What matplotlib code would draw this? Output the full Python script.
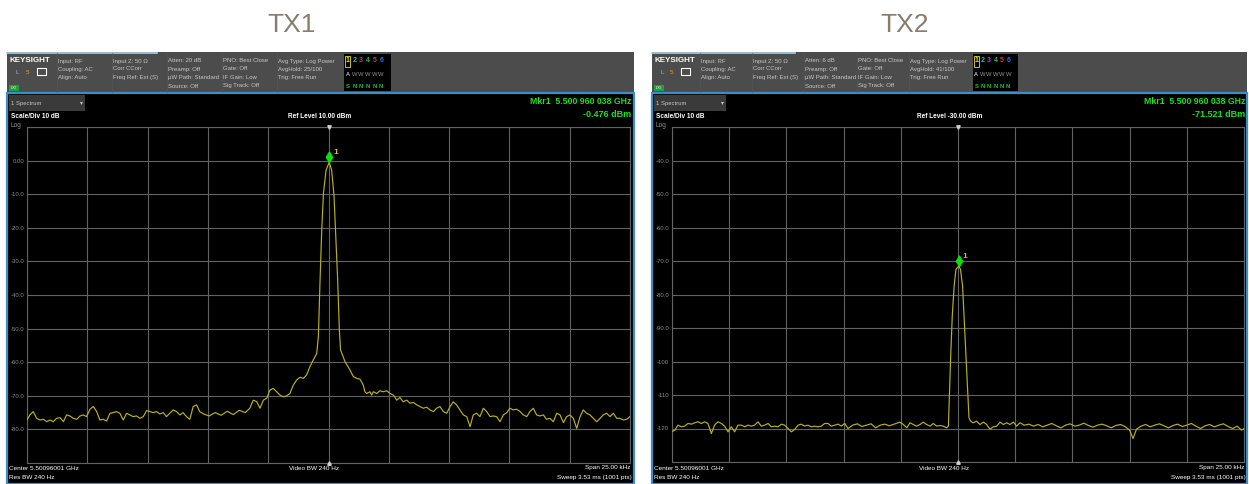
import matplotlib
matplotlib.use('Agg')
import matplotlib.pyplot as plt
from matplotlib.patches import Rectangle
from matplotlib.path import Path
import numpy as np

plt.rcParams['font.family'] = ['Liberation Sans', 'DejaVu Sans']

# ---------------- data ----------------
tx1_freq_khz = [-12.50, -12.38, -12.24, -12.10, -11.96, -11.82, -11.68, -11.55, -11.41, -11.27, -11.13, -10.99,
                -10.86, -10.72, -10.58, -10.44, -10.30, -10.17, -10.03, -9.89, -9.75, -9.61, -9.48, -9.34,
                -9.20, -9.06, -8.92, -8.79, -8.65, -8.51, -8.37, -8.23, -8.10, -7.96, -7.82, -7.68, -7.54,
                -7.41, -7.27, -7.13, -6.99, -6.85, -6.72, -6.58, -6.44, -6.30, -6.16, -6.03, -5.89, -5.75,
                -5.61, -5.47, -5.34, -5.15, -4.95, -4.70, -4.45, -4.20, -3.95, -3.70, -3.45, -3.26, -3.12,
                -2.98, -2.84, -2.70, -2.56, -2.43, -2.29, -2.15, -2.01, -1.87, -1.73, -1.60, -1.46, -1.32,
                -1.18, -1.04, -0.91, -0.77, -0.63, -0.49, -0.42, -0.35, -0.28, -0.21, -0.10, 0.03, 0.13,
                0.23, 0.31, 0.38, 0.45, 0.50, 0.61, 0.68, 0.89, 1.03, 1.17, 1.31, 1.44, 1.51, 1.58, 1.72,
                1.79, 1.86, 2.00, 2.13, 2.27, 2.41, 2.55, 2.69, 2.83, 2.96, 3.10, 3.24, 3.38, 3.52, 3.66,
                3.79, 3.93, 4.07, 4.21, 4.35, 4.48, 4.62, 4.76, 4.90, 5.04, 5.17, 5.31, 5.45, 5.59, 5.73,
                5.87, 6.00, 6.14, 6.28, 6.42, 6.56, 6.70, 6.83, 6.97, 7.11, 7.25, 7.39, 7.52, 7.66, 7.80,
                7.94, 8.08, 8.22, 8.35, 8.49, 8.63, 8.77, 8.91, 9.04, 9.18, 9.32, 9.46, 9.60, 9.74, 9.87,
                10.01, 10.15, 10.29, 10.43, 10.56, 10.70, 10.84, 10.98, 11.12, 11.26, 11.39, 11.53, 11.67,
                11.81, 11.95, 12.08, 12.22, 12.36, 12.50]
tx1_level_dbm = [-77.2, -75.7, -74.7, -76.7, -77.2, -77.0, -77.7, -77.2, -77.7, -76.7, -76.5, -77.7,
                 -75.7, -76.0, -76.7, -77.0, -76.0, -75.7, -76.2, -74.0, -73.2, -74.7, -77.2, -77.0,
                 -77.5, -75.2, -75.0, -74.7, -75.2, -77.2, -75.2, -75.7, -76.2, -76.0, -76.7, -76.2, -74.4,
                 -74.7, -75.0, -74.7, -75.4, -75.0, -76.2, -75.2, -74.2, -74.7, -75.7, -75.0, -76.2, -77.0,
                 -73.2, -72.7, -74.7, -75.5, -76.0, -75.0, -75.8, -74.6, -75.6, -74.3, -75.0, -73.7, -71.3,
                 -71.7, -73.7, -71.3, -70.7, -68.3, -67.8, -68.8, -69.8, -70.3, -70.0, -69.3, -66.8, -65.3,
                 -64.5, -64.8, -63.8, -61.3, -59.3, -57.4, -52.4, -35.5, -20.7, -9.7, -2.8, -0.476, -2.8,
                 -10.7, -23.6, -35.5, -50.4, -56.4, -58.4, -59.8, -62.3, -64.3, -64.8, -65.1, -66.8, -68.8, -69.3, -68.8,
                 -69.8, -68.8, -69.3, -68.5, -68.8, -68.5, -69.3, -69.8, -71.3, -70.5, -71.8, -71.3, -72.2, -72.0, -72.7,
                 -73.2, -73.7, -73.4, -74.2, -74.7, -73.7, -73.2, -74.7, -75.2, -73.2, -71.8, -72.7, -74.2, -75.7, -76.2,
                 -79.2, -75.7, -75.2, -76.2, -73.7, -74.7, -76.2, -76.0, -76.2, -77.7, -75.7, -75.0, -73.7, -74.2, -74.0,
                 -74.7, -75.7, -76.2, -74.7, -73.7, -75.7, -76.0, -75.7, -77.0, -76.7, -77.7, -75.2, -75.7, -78.0, -76.2,
                 -75.7, -76.7, -79.7, -76.2, -74.2, -75.2, -75.7, -76.7, -77.7, -76.7, -75.7, -75.2, -76.2,
                 -75.2, -76.7, -76.7, -77.2, -77.0, -76.2]

tx2_freq_khz = [-12.49, -12.38, -12.24, -12.09, -11.95, -11.80, -11.65, -11.51, -11.36, -11.22, -11.07, -10.93,
                -10.78, -10.64, -10.49, -10.34, -10.20, -10.05, -9.91, -9.76, -9.62, -9.47, -9.32, -9.18,
                -9.03, -8.89, -8.74, -8.60, -8.45, -8.30, -8.16, -8.01, -7.87, -7.72, -7.58, -7.43, -7.28,
                -7.14, -6.99, -6.85, -6.70, -6.56, -6.41, -6.26, -6.12, -5.97, -5.83, -5.68, -5.54, -5.39,
                -5.24, -5.10, -4.95, -4.81, -4.60, -4.40, -4.20, -4.00, -3.80, -3.60, -3.40, -3.20, -3.00,
                -2.75, -2.54, -2.39, -2.24, -2.10, -1.95, -1.81, -1.66, -1.52, -1.37, -1.22, -1.08, -0.93,
                -0.79, -0.64, -0.50, -0.42, -0.38, -0.32, -0.25, -0.17, -0.09, 0.03, 0.11, 0.20, 0.27, 0.35,
                0.42, 0.48, 0.55, 0.66, 0.81, 0.96, 1.11, 1.25, 1.40, 1.54, 1.69, 1.84, 1.98, 2.13, 2.27,
                2.42, 2.56, 2.71, 2.90, 3.10, 3.30, 3.50, 3.70, 3.90, 4.10, 4.30, 4.50, 4.70, 4.90, 5.10,
                5.30, 5.50, 5.70, 5.90, 6.10, 6.30, 6.50, 6.70, 6.90, 7.10, 7.30, 7.50, 7.65, 7.80, 8.00,
                8.20, 8.40, 8.60, 8.80, 9.00, 9.20, 9.40, 9.60, 9.80, 10.00, 10.20, 10.40, 10.60, 10.80,
                11.00, 11.20, 11.40, 11.60, 11.80, 12.00, 12.20, 12.40, 12.50]
tx2_level_dbm = [-120.9, -120.5, -119.0, -119.5, -119.3, -118.5, -118.7, -118.3, -118.0, -118.5, -118.0, -118.5,
                 -121.5, -119.0, -118.0, -118.5, -119.3, -121.0, -119.5, -121.0, -119.0, -119.0, -119.5, -119.0,
                 -119.3, -119.0, -118.0, -119.3, -119.0, -118.5, -119.5, -119.3, -119.5, -118.7, -119.0, -120.0, -121.0,
                 -120.3, -119.0, -118.7, -119.3, -119.0, -119.5, -119.3, -119.5, -119.3, -118.5, -118.5, -119.3, -119.0,
                 -118.7, -119.3, -118.5, -120.0, -119.0, -118.6, -119.4, -119.0, -118.6, -119.8, -119.0, -118.7, -119.2,
                 -118.6, -118.1, -118.8, -119.8, -118.3, -118.8, -119.3, -118.8, -118.1, -118.8, -119.3, -118.5, -119.3,
                 -119.1, -119.3, -119.8, -119.3, -111.3, -98.4, -86.4, -77.5, -72.5, -71.521, -72.5, -77.5, -87.4, -98.4,
                 -109.3, -116.8, -117.8, -118.3, -117.8, -118.8, -118.1, -118.8, -120.2, -119.5, -119.3, -118.1, -118.8, -118.3, -118.8,
                 -118.1, -119.3, -118.3, -119.0, -118.7, -119.3, -118.8, -119.5, -119.0, -118.5, -119.2, -119.8, -119.0, -118.6, -119.3,
                 -119.0, -118.4, -119.1, -119.6, -119.0, -118.7, -119.2, -119.8, -119.1, -118.8, -119.4, -120.5, -123.0, -120.2, -119.3,
                 -118.8, -119.5, -119.0, -118.6, -119.2, -119.8, -119.1, -118.7, -119.4, -119.0, -118.5, -119.3, -120.0, -119.2,
                 -118.8, -119.5, -119.0, -118.6, -119.4, -120.0, -119.3, -120.5, -120.0]

tx1_yticks = [10, 0, -10, -20, -30, -40, -50, -60, -70, -80, -90]
tx1_ylabels = ['', '0.00', '-10.0', '-20.0', '-30.0', '-40.0', '-50.0', '-60.0', '-70.0', '-80.0', '']
tx2_yticks = [-30, -40, -50, -60, -70, -80, -90, -100, -110, -120, -130]
tx2_ylabels = ['', '-40.0', '-50.0', '-60.0', '-70.0', '-80.0', '-90.0', '-100', '-110', '-120', '']
xgrid_khz = [-12.5, -10.0, -7.5, -5.0, -2.5, 0.0, 2.5, 5.0, 7.5, 10.0, 12.5]

tx1_marker = (0.03, -0.476)
tx2_marker = (0.03, -71.521)

tx1_header = [["Input: RF", "Coupling: AC", "Align: Auto"],
              ["Input Z: 50 Ω", "Corr CCorr", "Freq Ref: Ext (S)"],
              ["Atten: 20 dB", "Preamp: Off", "µW Path: Standard", "Source: Off"],
              ["PNO: Best Close", "Gate: Off", "IF Gain: Low", "Sig Track: Off"],
              ["Avg Type: Log Power", "AvgHold: 25/100", "Trig: Free Run"]]
tx2_header = [["Input: RF", "Coupling: AC", "Align: Auto"],
              ["Input Z: 50 Ω", "Corr CCorr", "Freq Ref: Ext (S)"],
              ["Atten: 6 dB", "Preamp: Off", "µW Path: Standard", "Source: Off"],
              ["PNO: Best Close", "Gate: Off", "IF Gain: Low", "Sig Track: Off"],
              ["Avg Type: Log Power", "AvgHold: 41/100", "Trig: Free Run"]]
tx1_ref = "Ref Level 10.00 dBm"
tx2_ref = "Ref Level -30.00 dBm"
mkr_freq_text = "Mkr1  5.500 960 038 GHz"
tx1_mkr_level = "-0.476 dBm"
tx2_mkr_level = "-71.521 dBm"

# ---------------- figure ----------------
W, H = 1249, 484
fig = plt.figure(figsize=(W / 100, H / 100), dpi=100)
fig.patch.set_facecolor('white')
bg = fig.add_axes([0, 0, 1, 1])
bg.set_xlim(0, W)
bg.set_ylim(H, 0)
bg.axis('off')

TITLE_C = '#877d6d'
HEAD_C = '#4c4c4c'
BLUE = '#3b8fc6'
TXT_G = '#c8c8c8'
GREEN = '#22dd22'
TRACE = '#b9b024'

diamond = Path([(0, 0), (0.3, 0.5), (0, 1), (-0.3, 0.5), (0, 0)],
               [Path.MOVETO, Path.LINETO, Path.LINETO, Path.LINETO, Path.CLOSEPOLY])


def panel(x0, x1, s, title, title_x, header, ref_text, mkr_level_text,
          freq, level, yticks, ylabels, marker, gx0, gx1, gy0, gy1):
    def X(d):
        return x0 + s * d
    bg.text(title_x, 25, title, ha='center', va='center', fontsize=19, color=TITLE_C)
    # header
    bg.add_patch(Rectangle((x0, 52), x1 - x0, 41, color=HEAD_C, lw=0))
    bg.plot([x0, X(150)], [52.8, 52.8], color='#a9d2ea', lw=1.2)
    bg.text(X(3), 61, "KEYSIGHT", fontsize=5.8, fontweight='bold', color='white', va='center')
    bg.text(X(9), 72, "L", fontsize=4.5, color='#9ab4d0', va='center')
    bg.text(X(19), 72, "5", fontsize=4.5, color='#e0a020', va='center')
    bg.add_patch(Rectangle((X(30), 68), 9, 7, fill=False, ec='white', lw=0.8))
    bg.add_patch(Rectangle((X(2), 85), 10, 6, color='#1fa040', lw=0))
    bg.text(X(7), 88, "LXI", fontsize=2.8, color='white', ha='center', va='center')
    colx = [51, 106, 161, 216, 271]
    rows = [61, 69, 77.3, 86]
    for cx, col in zip(colx, header):
        bg.plot([X(cx) - 1, X(cx) - 1], [53, 92], color='#555555', lw=0.5)
        for ry, t in zip(rows, col):
            bg.text(X(cx), ry, t, fontsize=4.3, color=TXT_G, va='center')
    # trace indicator box
    bg.add_patch(Rectangle((X(337), 54), 47 * s, 37, color='black', lw=0))
    nums = ['1', '2', '3', '4', '5', '6']
    ncol = ['#e8e020', '#20c8d8', '#d030d0', '#20c050', '#e03050', '#3070e0']
    for k in range(6):
        xx = X(340.7 + 6.7 * k)
        bg.text(xx, 61, nums[k], fontsize=5, fontweight='bold', color=ncol[k], ha='center', va='center')
        bg.text(xx, 74, 'A' if k == 0 else 'W', fontsize=4.2, color='white' if k == 0 else '#909090',
                ha='center', va='center')
        bg.text(xx, 86, 'S' if k == 0 else 'N', fontsize=4.2, fontweight='bold', color='#20c040',
                ha='center', va='center')
    bg.add_patch(Rectangle((X(338), 55.5), 5, 11, fill=False, ec='#e8e020', lw=0.6))
    # black screen
    bg.add_patch(Rectangle((x0, 93), x1 - x0, H - 93.5, fc='black', ec=BLUE, lw=1.6))
    bg.add_patch(Rectangle((x0 + 2, 95), 76 * s, 15.5, fc='#3a3a3a', lw=0))
    bg.text(x0 + 4, 103, "1 Spectrum", fontsize=4.2, color=TXT_G, va='center')
    bg.text(x0 + 74 * s, 103, "▾", fontsize=4.2, color=TXT_G, va='center', ha='center')
    bg.text(x0 + 4, 117, "Scale/Div 10 dB", fontsize=4.7, fontweight='bold', color='white', va='center')
    bg.text(X(313), 117, ref_text, fontsize=4.7, fontweight='bold', color='white', va='center', ha='center')
    bg.text(x0 + 4, 125.5, "Log", fontsize=4.7, color='#909090', va='center')
    bg.text(gx1 + 1, 102, mkr_freq_text, fontsize=6.3, fontweight='bold', color=GREEN, va='center', ha='right')
    bg.text(gx1 + 1, 114.5, mkr_level_text, fontsize=6.5, fontweight='bold', color=GREEN, va='center', ha='right')
    bg.text(x0 + 2, 468, "Center 5.50096001 GHz", fontsize=4.6, color='white', va='center')
    bg.text(x0 + 2, 477.5, "Res BW 240 Hz", fontsize=4.6, color='white', va='center')
    bg.text(X(307), 468, "Video BW 240 Hz", fontsize=4.6, color='white', va='center', ha='center')
    bg.text(gx1 + 1, 468, "Span 25.00 kHz", fontsize=4.6, color='white', va='center', ha='right')
    bg.text(gx1 + 2, 477.5, "Sweep 3.53 ms (1001 pts)", fontsize=4.6, color='white', va='center', ha='right')

    # graticule / data axes
    ax = fig.add_axes([gx0 / W, 1 - gy1 / H, (gx1 - gx0) / W, (gy1 - gy0) / H])
    ax.set_facecolor('black')
    ax.set_xlim(xgrid_khz[0], xgrid_khz[-1])
    ax.set_ylim(min(yticks), max(yticks))
    ax.set_xticks(xgrid_khz)
    ax.set_xticklabels([])
    ax.set_yticks(yticks)
    ax.set_yticklabels(ylabels)
    ax.tick_params(axis='both', length=0, pad=2, labelsize=4.3, labelcolor='#8c8c8c')
    ax.grid(True, color='#626262', lw=0.8)
    for sp in ax.spines.values():
        sp.set_color('#626262')
        sp.set_linewidth(0.8)
    ax.plot(freq, level, color=TRACE, lw=0.85, zorder=3)
    ax.plot([0], [max(yticks)], marker='v', ms=2.5, color='#d0d0d0', clip_on=False, zorder=4)
    ax.plot([0], [min(yticks)], marker='^', ms=2.5, color='#d0d0d0', clip_on=False, zorder=4)
    ax.plot([marker[0]], [marker[1]], marker=diamond, ms=15, color='#10dd10', mec='#10dd10', zorder=5)
    ax.annotate('1', (marker[0], marker[1]), xytext=(3, 7), textcoords='offset points',
                fontsize=6, color='#c8c040', fontweight='bold', va='center')
    return ax


panel(7, 634, 1.0, "TX1", 292, tx1_header, tx1_ref, tx1_mkr_level,
      tx1_freq_khz, tx1_level_dbm, tx1_yticks, tx1_ylabels, tx1_marker, 27, 630, 127, 463)
panel(652, 1247, 0.952, "TX2", 905, tx2_header, tx2_ref, tx2_mkr_level,
      tx2_freq_khz, tx2_level_dbm, tx2_yticks, tx2_ylabels, tx2_marker, 672, 1244, 127, 462)

fig.savefig('out.png', dpi=100, facecolor='white')
